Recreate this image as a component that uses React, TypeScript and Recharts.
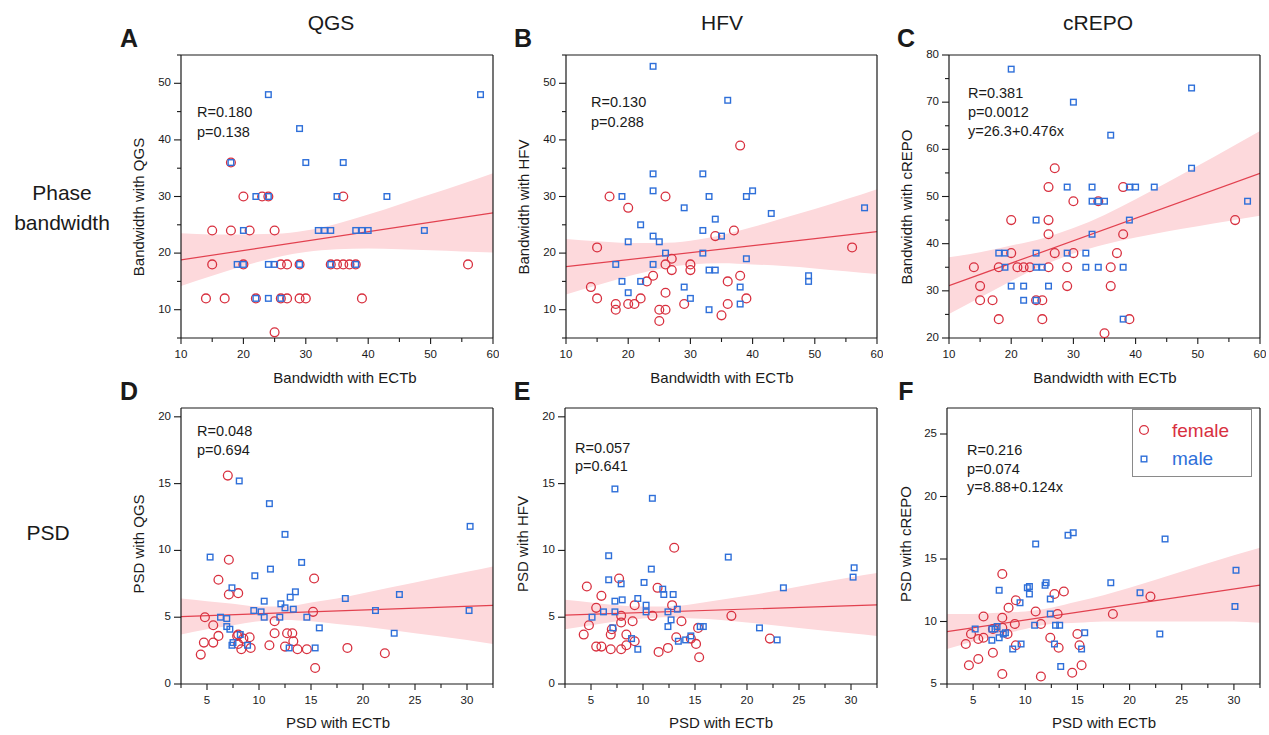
import React from 'react'
import { ComposedChart, Scatter, Line, Area, XAxis, YAxis, ReferenceLine } from 'recharts'

const FONT = '"Liberation Sans", Arial, Helvetica, sans-serif'
const RED = '#d8303f'
const BLUE = '#2e6fd9'
const FIT = '#e2414f'
const BAND = '#fdd9dc'
const INK = '#1a1a1a'

// ---- A: bandwidth, QGS vs ECTb
const aFemX = [14, 17, 22, 26, 27, 29, 30, 39, 25, 15, 20, 26, 27, 29, 34, 35, 36, 37, 38, 56, 15, 18, 21, 25, 20, 23, 24, 36, 18]
const aFemY = [12, 12, 12, 12, 12, 12, 12, 12, 6, 18, 18, 18, 18, 18, 18, 18, 18, 18, 18, 18, 24, 24, 24, 24, 30, 30, 30, 30, 36]
const aMaleX = [24, 58, 29, 18, 30, 36, 22, 24, 35, 43, 20, 32, 33, 34, 38, 39, 40, 49, 19, 20, 24, 25, 29, 34, 38, 22, 24, 26]
const aMaleY = [48, 48, 42, 36, 36, 36, 30, 30, 30, 30, 24, 24, 24, 24, 24, 24, 24, 24, 18, 18, 18, 18, 18, 18, 18, 12, 12, 12]

// ---- B: bandwidth, HFV vs ECTb
const bFemX = [17, 20, 15, 26, 38, 37, 34, 56, 27, 26, 27, 30, 30, 24, 23, 14, 15, 18, 18, 20, 21, 22, 26, 25, 26, 25, 29, 36, 38, 39, 36, 35]
const bFemY = [30, 28, 21, 30, 39, 24, 23, 21, 19, 18, 17, 18, 17, 16, 15, 14, 12, 11, 10, 11, 11, 12, 13, 10, 10, 8, 11, 15, 16, 12, 11, 9]
const bMaleX = [24, 36, 24, 24, 32, 19, 33, 39, 40, 29, 43, 58, 34, 22, 32, 24, 25, 20, 35, 26, 32, 39, 18, 24, 33, 34, 19, 22, 49, 49, 20, 29, 38, 30, 38, 33]
const bMaleY = [53, 47, 34, 31, 34, 30, 30, 30, 31, 28, 27, 28, 26, 25, 24, 23, 22, 22, 23, 20, 20, 19, 18, 18, 17, 17, 15, 15, 16, 15, 13, 14, 14, 12, 11, 10]

// ---- C: bandwidth, cREPO vs ECTb
const cFemX = [14, 15, 15, 17, 18, 18, 20, 20, 21, 22, 23, 24, 25, 25, 26, 26, 26, 26, 27, 27, 29, 29, 30, 30, 34, 35, 36, 36, 37, 38, 38, 39, 56]
const cFemY = [35, 31, 28, 28, 24, 35, 38, 45, 35, 35, 35, 28, 28, 24, 35, 42, 45, 52, 56, 38, 35, 31, 38, 49, 49, 21, 35, 31, 38, 42, 52, 24, 45]
const cMaleX = [20, 30, 36, 49, 49, 58, 29, 33, 39, 40, 43, 33, 34, 35, 39, 24, 33, 18, 19, 24, 29, 32, 19, 24, 25, 32, 34, 38, 20, 22, 26, 22, 24, 38]
const cMaleY = [77, 70, 63, 73, 56, 49, 52, 52, 52, 52, 52, 49, 49, 49, 45, 45, 42, 38, 38, 38, 38, 38, 35, 35, 35, 35, 35, 35, 31, 31, 31, 28, 28, 24]

// ---- D: PSD, QGS vs ECTb
const dFemX = [7.0, 7.1, 6.1, 7.1, 8.0, 15.3, 15.2, 11.5, 4.8, 5.6, 6.1, 4.7, 5.6, 4.4, 7.9, 8.0, 8.5, 9.1, 8.0, 8.3, 9.2, 11.0, 11.5, 12.7, 13.2, 13.3, 12.5, 13.7, 14.6, 18.5, 22.1, 15.4]
const dFemY = [15.6, 9.3, 7.8, 6.7, 6.8, 7.9, 5.4, 4.7, 5.0, 4.4, 3.6, 3.1, 3.1, 2.2, 3.6, 3.7, 3.4, 3.5, 3.0, 2.6, 2.7, 2.9, 3.8, 3.8, 3.8, 3.2, 2.8, 2.6, 2.6, 2.7, 2.3, 1.2]
const dMaleX = [8.1, 11.0, 12.5, 30.3, 5.3, 11.1, 14.1, 9.6, 7.4, 13.5, 13.0, 10.5, 12.1, 12.5, 13.3, 9.5, 10.2, 10.5, 12.0, 14.6, 18.3, 21.2, 23.5, 30.2, 6.3, 6.9, 6.9, 7.2, 8.2, 7.5, 7.4, 8.9, 12.9, 15.4, 15.8, 23.0]
const dMaleY = [15.2, 13.5, 11.2, 11.8, 9.5, 8.6, 9.1, 8.1, 7.2, 6.9, 6.5, 6.2, 6.0, 5.7, 5.6, 5.5, 5.4, 5.0, 5.0, 5.0, 6.4, 5.5, 6.7, 5.5, 5.0, 4.9, 4.3, 4.1, 3.7, 3.1, 2.9, 2.9, 2.7, 2.7, 4.2, 3.8]

// ---- E: PSD, HFV vs ECTb
const eFemX = [13.0, 7.7, 4.6, 6.0, 11.4, 9.2, 12.8, 5.5, 7.9, 10.9, 18.5, 7.9, 9.0, 13.7, 4.8, 4.3, 7.0, 6.9, 8.4, 13.2, 15.3, 14.6, 15.1, 9.2, 8.4, 5.5, 6.0, 6.9, 7.9, 12.4, 11.5, 15.4, 22.2]
const eFemY = [10.2, 7.9, 7.3, 6.6, 7.2, 5.9, 5.9, 5.7, 5.1, 5.1, 5.1, 4.6, 4.7, 4.7, 4.4, 3.7, 4.1, 3.7, 3.7, 3.5, 4.2, 3.4, 3.0, 3.2, 2.9, 2.8, 2.8, 2.6, 2.6, 2.7, 2.4, 2.0, 3.4]
const eMaleX = [7.3, 10.9, 6.7, 18.2, 10.8, 30.3, 30.2, 6.7, 7.9, 10.1, 23.5, 11.9, 12.0, 12.9, 8.0, 7.3, 9.5, 10.3, 13.3, 6.2, 7.3, 10.3, 12.4, 5.1, 12.7, 7.1, 12.4, 15.5, 15.8, 21.2, 8.9, 14.6, 13.4, 14.1, 9.5, 22.9]
const eMaleY = [14.6, 13.9, 9.6, 9.5, 8.6, 8.7, 8.0, 7.8, 7.5, 7.6, 7.2, 7.1, 6.7, 6.7, 6.3, 6.2, 6.4, 5.9, 5.6, 5.4, 5.4, 5.4, 5.4, 5.0, 4.8, 4.2, 4.3, 4.3, 4.3, 4.2, 3.4, 3.6, 3.2, 3.3, 2.6, 3.3]

// ---- F: PSD, cREPO vs ECTb
const fFemX = [7.8, 13.7, 12.8, 22.0, 9.1, 8.4, 18.4, 11.0, 13.1, 6.0, 7.8, 9.0, 11.5, 6.9, 7.8, 4.8, 6.0, 5.5, 4.3, 8.3, 12.4, 15.0, 15.2, 13.2, 9.1, 6.9, 5.5, 4.6, 15.4, 7.8, 11.5, 14.5]
const fFemY = [13.8, 12.4, 12.2, 12.0, 11.7, 11.1, 10.6, 10.8, 10.6, 10.4, 10.3, 9.8, 9.8, 9.4, 9.5, 9.0, 8.7, 8.6, 8.2, 9.0, 8.7, 9.0, 8.1, 7.9, 8.1, 7.5, 7.0, 6.5, 6.5, 5.8, 5.6, 5.9]
const fMaleX = [23.4, 14.6, 14.1, 11.0, 30.2, 18.2, 12.0, 11.9, 10.4, 10.2, 10.4, 7.5, 21.0, 12.4, 9.5, 12.4, 30.1, 10.9, 12.9, 13.3, 5.2, 6.8, 7.3, 7.1, 8.1, 7.9, 15.7, 22.9, 6.8, 7.5, 9.6, 8.8, 12.8, 15.4, 13.4]
const fMaleY = [16.6, 17.1, 16.9, 16.2, 14.1, 13.1, 13.1, 12.9, 12.8, 12.7, 12.2, 12.5, 12.3, 11.8, 11.5, 10.6, 11.2, 9.7, 9.7, 9.7, 9.4, 9.4, 9.6, 9.4, 9.1, 9.0, 9.1, 9.0, 8.5, 8.7, 8.2, 7.8, 8.2, 7.8, 6.4]

// regression lines + 95% bands
const bwBandX = [10, 15, 20, 25, 30, 35, 40, 45, 50, 55, 60]
const aLo = [14.2, 16.0, 17.7, 19.2, 20.2, 20.7, 20.8, 20.7, 20.5, 20.3, 20.1]
const aHi = [23.5, 23.3, 23.3, 23.4, 24.0, 25.2, 26.8, 28.6, 30.4, 32.2, 34.1]
const bLo = [12.7, 14.3, 15.9, 17.2, 18.0, 18.2, 18.0, 17.7, 17.3, 16.8, 16.3]
const bHi = [22.5, 22.1, 21.8, 21.8, 22.2, 23.2, 24.6, 26.2, 27.8, 29.5, 31.3]
const cLo = [25.1, 28.6, 32.1, 35.3, 37.9, 39.8, 41.3, 42.6, 43.7, 44.8, 45.9]
const cHi = [37.1, 38.2, 39.6, 41.1, 43.3, 46.1, 49.4, 52.9, 56.5, 60.2, 63.9]
const bwFitX = [10, 60]
const aFit = [18.8, 27.1]
const bFit = [17.6, 23.8]
const cFit = [31.1, 54.9]

const psdBandX = [2.5, 5, 7.5, 10, 12.5, 15, 17.5, 20, 25, 30, 32.5]
const dLo = [3.7, 4.1, 4.4, 4.7, 4.8, 4.7, 4.5, 4.3, 3.8, 3.3, 3.0]
const dHi = [6.4, 6.2, 6.0, 5.8, 5.8, 6.1, 6.4, 6.8, 7.6, 8.4, 8.8]
const eLo = [4.1, 4.4, 4.7, 4.9, 5.0, 4.9, 4.8, 4.6, 4.2, 3.8, 3.6]
const eHi = [6.3, 6.1, 5.9, 5.8, 5.8, 6.0, 6.3, 6.6, 7.3, 8.0, 8.3]
const fLo = [7.8, 8.4, 8.9, 9.4, 9.8, 9.9, 10.0, 10.0, 10.0, 10.0, 9.9]
const fHi = [10.6, 10.6, 10.7, 10.8, 11.1, 11.6, 12.1, 12.7, 14.0, 15.3, 15.9]
const psdFitX = [2.5, 32.5]
const dFit = [5.05, 5.88]
const eFit = [5.16, 5.93]
const fFit = [9.19, 12.91]

const bwTicks = [10, 15, 20, 25, 30, 35, 40, 45, 50, 55, 60]
const psdTicks = [2.5, 5, 7.5, 10, 12.5, 15, 17.5, 20, 22.5, 25, 27.5, 30, 32.5]

const pts = (xs: number[], ys: number[]) => xs.map((x, i) => ({ x, y: ys[i] }))
const band = (xs: number[], lo: number[], hi: number[]) => xs.map((x, i) => ({ x, lo: lo[i], hi: hi[i] }))

const Circ = (p: any) => <circle cx={p.cx} cy={p.cy} r={4.4} fill="none" stroke={RED} strokeWidth={1.3} />
const Sq = (p: any) => (
  <rect x={p.cx - 2.8} y={p.cy - 2.8} width={5.6} height={5.6} fill="none" stroke={BLUE} strokeWidth={1.4} />
)

const xTick = (every: number) => (props: any) => {
  const { x, y, payload } = props
  const v = payload.value
  const major = Math.abs(v / every - Math.round(v / every)) < 1e-6
  return (
    <g>
      <line x1={x} x2={x} y1={y} y2={y + (major ? 6 : 4)} stroke={INK} strokeWidth={1.1} />
      {major && (
        <text x={x} y={y + 17} textAnchor="middle" dominantBaseline="middle" fontSize={11.5} fill={INK} fontFamily={FONT}>
          {v}
        </text>
      )}
    </g>
  )
}

const yTick = (every: number) => (props: any) => {
  const { x, y, payload } = props
  const v = payload.value
  const major = Math.abs(v / every - Math.round(v / every)) < 1e-6
  return (
    <g>
      <line x1={x} x2={x - (major ? 7 : 4)} y1={y} y2={y} stroke={INK} strokeWidth={1.1} />
      {major && (
        <text x={x - 10} y={y} textAnchor="end" dominantBaseline="middle" fontSize={11.5} fill={INK} fontFamily={FONT}>
          {v}
        </text>
      )}
    </g>
  )
}

type PanelProps = {
  left: number
  top: number
  w: number
  h: number
  xDomain: [number, number]
  yDomain: [number, number]
  xTicks: number[]
  yTicks: number[]
  xEvery: number
  yEvery: number
  female: { x: number; y: number }[]
  male: { x: number; y: number }[]
  bandRows: { x: number; lo: number; hi: number }[]
  fit: { x: number; y: number }[]
}

const Panel = (p: PanelProps) => (
  <div style={{ position: 'absolute', left: p.left - 100, top: p.top - 6 }}>
    <ComposedChart width={p.w + 106} height={p.h + 56} margin={{ top: 6, right: 6, left: 0, bottom: 0 }}>
      <XAxis
        type="number"
        dataKey="x"
        domain={p.xDomain}
        ticks={p.xTicks}
        interval={0}
        tickSize={0}
        tickMargin={0}
        tickLine={false}
        tick={xTick(p.xEvery)}
        axisLine={{ stroke: INK, strokeWidth: 1.2 }}
        height={50}
        allowDataOverflow
      />
      <YAxis
        type="number"
        domain={p.yDomain}
        ticks={p.yTicks}
        interval={0}
        tickSize={0}
        tickMargin={0}
        tickLine={false}
        tick={yTick(p.yEvery)}
        axisLine={{ stroke: INK, strokeWidth: 1.2 }}
        width={100}
        allowDataOverflow
      />
      <Area
        data={p.bandRows}
        dataKey={(d: any) => [d.lo, d.hi]}
        type="monotone"
        fill={BAND}
        fillOpacity={1}
        stroke="none"
        isAnimationActive={false}
      />
      <Line data={p.fit} dataKey="y" stroke={FIT} strokeWidth={1.2} dot={false} isAnimationActive={false} />
      <Scatter data={p.female} dataKey="y" shape={Circ} isAnimationActive={false} />
      <Scatter data={p.male} dataKey="y" shape={Sq} isAnimationActive={false} />
      <ReferenceLine y={p.yDomain[1]} stroke={INK} strokeWidth={1.2} />
      <ReferenceLine x={p.xDomain[1]} stroke={INK} strokeWidth={1.2} />
    </ComposedChart>
  </div>
)

const T = ({ x, y, size, bold, color, rotate, children }: any) => (
  <div
    style={{
      position: 'absolute',
      left: x,
      top: y,
      transform: `translate(-50%, -50%)${rotate ? ' rotate(-90deg)' : ''}`,
      whiteSpace: 'nowrap',
      fontFamily: FONT,
      fontSize: size,
      fontWeight: bold ? 700 : 400,
      color: color || INK,
      lineHeight: 1,
    }}
  >
    {children}
  </div>
)

const Stats = ({ x, y, gap, lines }: { x: number; y: number; gap: number; lines: string[] }) => (
  <>
    {lines.map((s, i) => (
      <div
        key={i}
        style={{
          position: 'absolute',
          left: x,
          top: y + i * gap,
          transform: 'translateY(-50%)',
          fontFamily: FONT,
          fontSize: 14.5,
          color: INK,
          lineHeight: 1,
          whiteSpace: 'nowrap',
        }}
      >
        {s}
      </div>
    ))}
  </>
)

export default function App() {
  const top1 = 55
  const h1 = 283
  const top2 = 408
  const h2 = 276
  return (
    <div style={{ position: 'absolute', left: 0, top: 0, width: 1269, height: 735, background: '#fff', overflow: 'hidden' }}>
      <T x={331} y={22} size={21}>QGS</T>
      <T x={722} y={22} size={21}>HFV</T>
      <T x={1098} y={22} size={21}>cREPO</T>

      <T x={129} y={38} size={25} bold>A</T>
      <T x={523} y={38} size={25} bold>B</T>
      <T x={906} y={38} size={25} bold>C</T>
      <T x={129} y={391} size={25} bold>D</T>
      <T x={522} y={391} size={25} bold>E</T>
      <T x={906} y={391} size={25} bold>F</T>

      <T x={62} y={192} size={21}>Phase</T>
      <T x={62} y={222} size={21}>bandwidth</T>
      <T x={48} y={532} size={21}>PSD</T>

      <Panel
        left={181} top={top1} w={312} h={h1}
        xDomain={[10, 60]} yDomain={[5, 55]} xTicks={bwTicks} yTicks={[5, 10, 15, 20, 25, 30, 35, 40, 45, 50, 55]}
        xEvery={10} yEvery={10}
        female={pts(aFemX, aFemY)} male={pts(aMaleX, aMaleY)}
        bandRows={band(bwBandX, aLo, aHi)} fit={pts(bwFitX, aFit)}
      />
      <Panel
        left={566} top={top1} w={311} h={h1}
        xDomain={[10, 60]} yDomain={[5, 55]} xTicks={bwTicks} yTicks={[5, 10, 15, 20, 25, 30, 35, 40, 45, 50, 55]}
        xEvery={10} yEvery={10}
        female={pts(bFemX, bFemY)} male={pts(bMaleX, bMaleY)}
        bandRows={band(bwBandX, bLo, bHi)} fit={pts(bwFitX, bFit)}
      />
      <Panel
        left={949} top={top1} w={311} h={h1}
        xDomain={[10, 60]} yDomain={[20, 80]} xTicks={bwTicks} yTicks={[20, 25, 30, 35, 40, 45, 50, 55, 60, 65, 70, 75, 80]}
        xEvery={10} yEvery={10}
        female={pts(cFemX, cFemY)} male={pts(cMaleX, cMaleY)}
        bandRows={band(bwBandX, cLo, cHi)} fit={pts(bwFitX, cFit)}
      />
      <Panel
        left={181} top={top2} w={312} h={h2}
        xDomain={[2.5, 32.5]} yDomain={[0, 20.66]} xTicks={psdTicks} yTicks={[0, 5, 10, 15, 20]}
        xEvery={5} yEvery={5}
        female={pts(dFemX, dFemY)} male={pts(dMaleX, dMaleY)}
        bandRows={band(psdBandX, dLo, dHi)} fit={pts(psdFitX, dFit)}
      />
      <Panel
        left={565} top={top2} w={312} h={h2}
        xDomain={[2.5, 32.5]} yDomain={[0, 20.66]} xTicks={psdTicks} yTicks={[0, 5, 10, 15, 20]}
        xEvery={5} yEvery={5}
        female={pts(eFemX, eFemY)} male={pts(eMaleX, eMaleY)}
        bandRows={band(psdBandX, eLo, eHi)} fit={pts(psdFitX, eFit)}
      />
      <Panel
        left={947} top={top2} w={313} h={h2}
        xDomain={[2.5, 32.5]} yDomain={[5, 27.08]} xTicks={psdTicks} yTicks={[5, 10, 15, 20, 25]}
        xEvery={5} yEvery={5}
        female={pts(fFemX, fFemY)} male={pts(fMaleX, fMaleY)}
        bandRows={band(psdBandX, fLo, fHi)} fit={pts(psdFitX, fFit)}
      />

      {/* axis titles */}
      <T x={345} y={377} size={15}>Bandwidth with ECTb</T>
      <T x={722} y={377} size={15}>Bandwidth with ECTb</T>
      <T x={1105} y={377} size={15}>Bandwidth with ECTb</T>
      <T x={338} y={722} size={15}>PSD with ECTb</T>
      <T x={721} y={722} size={15}>PSD with ECTb</T>
      <T x={1104} y={722} size={15}>PSD with ECTb</T>
      <T x={138} y={207} size={15} rotate>Bandwidth with QGS</T>
      <T x={523} y={207} size={15} rotate>Bandwidth with HFV</T>
      <T x={906} y={207} size={15} rotate>Bandwidth with cREPO</T>
      <T x={138} y={544} size={15} rotate>PSD with QGS</T>
      <T x={522} y={544} size={15} rotate>PSD with HFV</T>
      <T x={905} y={544} size={15} rotate>PSD with cREPO</T>

      {/* statistics */}
      <Stats x={197} y={112} gap={20} lines={['R=0.180', 'p=0.138']} />
      <Stats x={591} y={102} gap={20} lines={['R=0.130', 'p=0.288']} />
      <Stats x={968} y={93} gap={19} lines={['R=0.381', 'p=0.0012', 'y=26.3+0.476x']} />
      <Stats x={197} y={431} gap={19} lines={['R=0.048', 'p=0.694']} />
      <Stats x={575} y={448} gap={18} lines={['R=0.057', 'p=0.641']} />
      <Stats x={967} y={450} gap={18.5} lines={['R=0.216', 'p=0.074', 'y=8.88+0.124x']} />

      {/* legend */}
      <div
        style={{
          position: 'absolute',
          left: 1132,
          top: 409,
          width: 118,
          height: 66,
          border: '1.2px solid #8a8a8a',
          background: '#fff',
          fontFamily: FONT,
        }}
      >
        <svg width={20} height={60} style={{ position: 'absolute', left: 0, top: 0 }}>
          <circle cx={11} cy={20} r={4.4} fill="none" stroke={RED} strokeWidth={1.3} />
          <rect x={8.2} y={46.2} width={5.6} height={5.6} fill="none" stroke={BLUE} strokeWidth={1.4} />
        </svg>
        <div style={{ position: 'absolute', left: 39, top: 20, transform: 'translateY(-50%)', fontSize: 19, color: RED, lineHeight: 1 }}>female</div>
        <div style={{ position: 'absolute', left: 39, top: 48, transform: 'translateY(-50%)', fontSize: 19, color: BLUE, lineHeight: 1 }}>male</div>
      </div>
    </div>
  )
}
